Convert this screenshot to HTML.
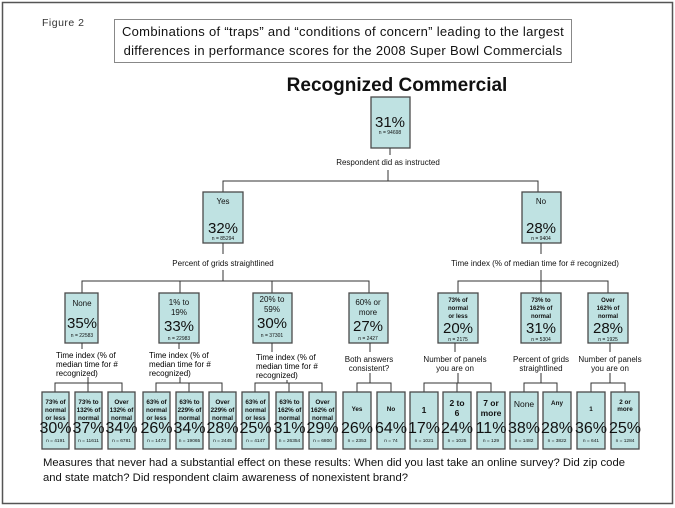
<!DOCTYPE html>
<html><head><meta charset="utf-8"><style>
html,body{margin:0;padding:0;background:#fff;}
svg{display:block;font-family:"Liberation Sans",Arial,sans-serif;}
.b{fill:#bfe2e2;stroke:#4a4a4a;stroke-width:1.3;}
.l{stroke:#333;stroke-width:1;fill:none;}
.t{text-anchor:middle;fill:#111;}
</style></head><body>
<svg width="675" height="508" viewBox="0 0 675 508">
<rect x="2.5" y="2.5" width="670" height="501" fill="none" stroke="#555" stroke-width="1.5"/>
<text x="42" y="26" font-size="10.5" fill="#333" letter-spacing="0.5">Figure 2</text>
<rect x="114.5" y="19.5" width="457" height="43" fill="#fff" stroke="#888" stroke-width="1"/>
<text class="t" x="343" y="36" font-size="13" fill="#333" letter-spacing="0.3">Combinations of “traps” and “conditions of concern” leading to the largest</text>
<text class="t" x="343" y="55" font-size="13" fill="#333" letter-spacing="0.3">differences in performance scores for the 2008 Super Bowl Commercials</text>
<text class="t" x="397" y="91" font-size="19" font-weight="bold">Recognized Commercial</text>

<rect class="b" x="371" y="97" width="39" height="51"/>
<text class="t" x="390" y="127" font-size="15">31%</text>
<text class="t" x="390" y="134" font-size="5">n = 94698</text>
<line class="l" x1="390" y1="148" x2="390" y2="155"/>
<text class="t" x="388" y="165" font-size="8">Respondent did as instructed</text>
<line class="l" x1="388" y1="170" x2="388" y2="181"/>
<polyline class="l" points="223,192 223,181 538,181 538,192"/>

<rect class="b" x="203" y="192" width="40" height="51"/>
<text class="t" x="223" y="204" font-size="8">Yes</text>
<text class="t" x="223" y="233" font-size="15">32%</text>
<text class="t" x="223" y="240" font-size="5">n = 85294</text>
<rect class="b" x="522" y="192" width="39" height="51"/>
<text class="t" x="541" y="204" font-size="8">No</text>
<text class="t" x="541" y="233" font-size="15">28%</text>
<text class="t" x="541" y="240" font-size="5">n = 9404</text>
<line class="l" x1="223" y1="243" x2="223" y2="254"/>
<line class="l" x1="541" y1="243" x2="541" y2="254"/>
<text class="t" x="223" y="266" font-size="8">Percent of grids straightlined</text>
<text class="t" x="535" y="266" font-size="8">Time index (% of median time for # recognized)</text>
<line class="l" x1="223" y1="270" x2="223" y2="281"/>
<line class="l" x1="541" y1="270" x2="541" y2="281"/>
<polyline class="l" points="82,293 82,281 369,281 369,293"/>
<line class="l" x1="180" y1="281" x2="180" y2="293"/>
<line class="l" x1="272" y1="281" x2="272" y2="293"/>
<polyline class="l" points="458,293 458,281 608,281 608,293"/>
<line class="l" x1="541" y1="281" x2="541" y2="293"/>

<rect class="b" x="65" y="293" width="33" height="50"/>
<text class="t" x="82" y="306" font-size="8">None</text>
<text class="t" x="82" y="328" font-size="15">35%</text>
<text class="t" x="82" y="337" font-size="5">n = 22583</text>
<rect class="b" x="159" y="293" width="40" height="50"/>
<text class="t" x="179" y="305" font-size="8">1% to</text>
<text class="t" x="179" y="315" font-size="8">19%</text>
<text class="t" x="179" y="331" font-size="15">33%</text>
<text class="t" x="179" y="340" font-size="5">n = 22983</text>
<rect class="b" x="253" y="293" width="39" height="50"/>
<text class="t" x="272" y="302" font-size="8">20% to</text>
<text class="t" x="272" y="312" font-size="8">59%</text>
<text class="t" x="272" y="328" font-size="15">30%</text>
<text class="t" x="272" y="337" font-size="5">n = 37301</text>
<rect class="b" x="349" y="293" width="39" height="50"/>
<text class="t" x="368" y="305" font-size="8">60% or</text>
<text class="t" x="368" y="315" font-size="8">more</text>
<text class="t" x="368" y="331" font-size="15">27%</text>
<text class="t" x="368" y="340" font-size="5">n = 2427</text>
<g font-weight="bold" font-size="6">
<rect class="b" x="438" y="293" width="40" height="50"/>
<text class="t" x="458" y="302">73% of</text><text class="t" x="458" y="310">normal</text><text class="t" x="458" y="318">or less</text>
<rect class="b" x="521" y="293" width="40" height="50"/>
<text class="t" x="541" y="302">73% to</text><text class="t" x="541" y="310">162% of</text><text class="t" x="541" y="318">normal</text>
<rect class="b" x="588" y="293" width="40" height="50"/>
<text class="t" x="608" y="302">Over</text><text class="t" x="608" y="310">162% of</text><text class="t" x="608" y="318">normal</text>
</g>
<text class="t" x="458" y="333" font-size="15">20%</text><text class="t" x="458" y="341" font-size="5">n = 2175</text>
<text class="t" x="541" y="333" font-size="15">31%</text><text class="t" x="541" y="341" font-size="5">n = 5304</text>
<text class="t" x="608" y="333" font-size="15">28%</text><text class="t" x="608" y="341" font-size="5">n = 1925</text>

<g font-size="8">
<line class="l" x1="82" y1="343" x2="82" y2="349"/>
<text x="56" y="358">Time index (% of</text><text x="56" y="367">median time for #</text><text x="56" y="376">recognized)</text>
<line class="l" x1="179" y1="343" x2="179" y2="349"/>
<text x="149" y="358">Time index (% of</text><text x="149" y="367">median time for #</text><text x="149" y="376">recognized)</text>
<line class="l" x1="272" y1="343" x2="272" y2="352"/>
<text x="256" y="360">Time index (% of</text><text x="256" y="369">median time for #</text><text x="256" y="378">recognized)</text>
<line class="l" x1="370" y1="343" x2="370" y2="352"/>
<text class="t" x="369" y="362">Both answers</text><text class="t" x="369" y="371">consistent?</text>
<line class="l" x1="455" y1="343" x2="455" y2="352"/>
<text class="t" x="455" y="362">Number of panels</text><text class="t" x="455" y="371">you are on</text>
<text class="t" x="541" y="362">Percent of grids</text><text class="t" x="541" y="371">straightlined</text>
<line class="l" x1="610" y1="343" x2="610" y2="352"/>
<text class="t" x="610" y="362">Number of panels</text><text class="t" x="610" y="371">you are on</text>
</g>
<line class="l" x1="88" y1="377" x2="88" y2="383"/>
<line class="l" x1="180" y1="377" x2="180" y2="383"/>
<line class="l" x1="287" y1="380" x2="287" y2="383"/>
<line class="l" x1="370" y1="373" x2="370" y2="383"/>
<line class="l" x1="458" y1="373" x2="458" y2="383"/>
<line class="l" x1="541" y1="373" x2="541" y2="383"/>
<line class="l" x1="610" y1="373" x2="610" y2="383"/>
<polyline class="l" points="55,392 55,383 122,383 122,392"/><line class="l" x1="88" y1="383" x2="88" y2="392"/>
<polyline class="l" points="156,392 156,383 222,383 222,392"/><line class="l" x1="189" y1="383" x2="189" y2="392"/>
<polyline class="l" points="255,392 255,383 322,383 322,392"/><line class="l" x1="289" y1="383" x2="289" y2="392"/>
<polyline class="l" points="357,392 357,383 391,383 391,392"/>
<polyline class="l" points="424,392 424,383 491,383 491,392"/><line class="l" x1="457" y1="383" x2="457" y2="392"/>
<polyline class="l" points="524,392 524,383 557,383 557,392"/>
<polyline class="l" points="591,392 591,383 625,383 625,392"/>

<g font-size="6.3" font-weight="bold">
<rect class="b" x="42" y="392" width="27" height="57"/><text class="t" x="55.5" y="404">73% of</text><text class="t" x="55.5" y="412">normal</text><text class="t" x="55.5" y="420">or less</text>
<rect class="b" x="75" y="392" width="27" height="57"/><text class="t" x="88.5" y="404">73% to</text><text class="t" x="88.5" y="412">132% of</text><text class="t" x="88.5" y="420">normal</text>
<rect class="b" x="108" y="392" width="27" height="57"/><text class="t" x="121.5" y="404">Over</text><text class="t" x="121.5" y="412">132% of</text><text class="t" x="121.5" y="420">normal</text>
<rect class="b" x="143" y="392" width="27" height="57"/><text class="t" x="156.5" y="404">63% of</text><text class="t" x="156.5" y="412">normal</text><text class="t" x="156.5" y="420">or less</text>
<rect class="b" x="176" y="392" width="27" height="57"/><text class="t" x="189.5" y="404">63% to</text><text class="t" x="189.5" y="412">229% of</text><text class="t" x="189.5" y="420">normal</text>
<rect class="b" x="209" y="392" width="27" height="57"/><text class="t" x="222.5" y="404">Over</text><text class="t" x="222.5" y="412">229% of</text><text class="t" x="222.5" y="420">normal</text>
<rect class="b" x="242" y="392" width="27" height="57"/><text class="t" x="255.5" y="404">63% of</text><text class="t" x="255.5" y="412">normal</text><text class="t" x="255.5" y="420">or less</text>
<rect class="b" x="276" y="392" width="27" height="57"/><text class="t" x="289.5" y="404">63% to</text><text class="t" x="289.5" y="412">162% of</text><text class="t" x="289.5" y="420">normal</text>
<rect class="b" x="309" y="392" width="27" height="57"/><text class="t" x="322.5" y="404">Over</text><text class="t" x="322.5" y="412">162% of</text><text class="t" x="322.5" y="420">normal</text>
<rect class="b" x="343" y="392" width="28" height="57"/><text class="t" x="357" y="411">Yes</text>
<rect class="b" x="377" y="392" width="28" height="57"/><text class="t" x="391" y="411">No</text>
<rect class="b" x="410" y="392" width="28" height="57"/><text class="t" x="424" y="413" font-size="8.5">1</text>
<rect class="b" x="443" y="392" width="28" height="57"/><text class="t" x="457" y="406" font-size="8.5">2 to</text><text class="t" x="457" y="416" font-size="8.5">6</text>
<rect class="b" x="477" y="392" width="28" height="57"/><text class="t" x="491" y="406" font-size="8.5">7 or</text><text class="t" x="491" y="416" font-size="8.5">more</text>
<rect class="b" x="510" y="392" width="28" height="57"/><text class="t" x="524" y="407" font-size="8.5" font-weight="normal">None</text>
<rect class="b" x="543" y="392" width="28" height="57"/><text class="t" x="557" y="405">Any</text>
<rect class="b" x="577" y="392" width="28" height="57"/><text class="t" x="591" y="411">1</text>
<rect class="b" x="611" y="392" width="28" height="57"/><text class="t" x="625" y="404">2 or</text><text class="t" x="625" y="411">more</text>
</g>
<g font-size="16">
<text class="t" x="55.5" y="433">30%</text><text class="t" x="88.5" y="433">37%</text><text class="t" x="121.5" y="433">34%</text>
<text class="t" x="156.5" y="433">26%</text><text class="t" x="189.5" y="433">34%</text><text class="t" x="222.5" y="433">28%</text>
<text class="t" x="255.5" y="433">25%</text><text class="t" x="289.5" y="433">31%</text><text class="t" x="322.5" y="433">29%</text>
<text class="t" x="357" y="433">26%</text><text class="t" x="391" y="433">64%</text><text class="t" x="424" y="433">17%</text>
<text class="t" x="457" y="433">24%</text><text class="t" x="491" y="433">11%</text><text class="t" x="524" y="433">38%</text>
<text class="t" x="557" y="433">28%</text><text class="t" x="591" y="433">36%</text><text class="t" x="625" y="433">25%</text>
</g>
<g font-size="4.8" fill="#222">
<text class="t" x="55.5" y="442">n = 4191</text><text class="t" x="88.5" y="442">n = 11611</text><text class="t" x="121.5" y="442">n = 6781</text>
<text class="t" x="156.5" y="442">n = 1473</text><text class="t" x="189.5" y="442">n = 19065</text><text class="t" x="222.5" y="442">n = 2445</text>
<text class="t" x="255.5" y="442">n = 4147</text><text class="t" x="289.5" y="442">n = 26354</text><text class="t" x="322.5" y="442">n = 6800</text>
<text class="t" x="357" y="442">n = 2353</text><text class="t" x="391" y="442">n = 74</text><text class="t" x="424" y="442">n = 1021</text>
<text class="t" x="457" y="442">n = 1025</text><text class="t" x="491" y="442">n = 129</text><text class="t" x="524" y="442">n = 1482</text>
<text class="t" x="557" y="442">n = 3822</text><text class="t" x="591" y="442">n = 641</text><text class="t" x="625" y="442">n = 1284</text>
</g>
<text x="43" y="466" font-size="11.3" fill="#111" textLength="582" lengthAdjust="spacingAndGlyphs">Measures that never had a substantial effect on these results: When did you last take an online survey?  Did zip code</text>
<text x="43" y="481" font-size="11.3" fill="#111" textLength="365" lengthAdjust="spacingAndGlyphs">and state match?  Did respondent claim awareness of nonexistent brand?</text>
</svg>
</body></html>
